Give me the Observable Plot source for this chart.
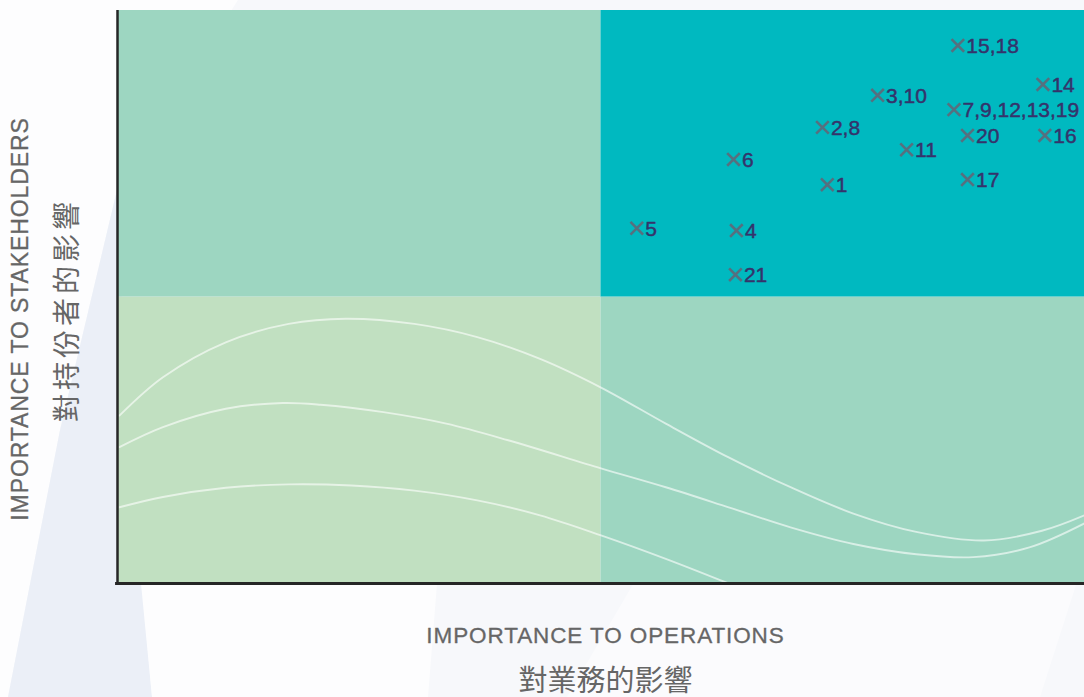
<!DOCTYPE html>
<html>
<head>
<meta charset="utf-8">
<script src="https://cdn.jsdelivr.net/npm/d3@7"></script>
<script src="https://cdn.jsdelivr.net/npm/@observablehq/plot@0.6"></script>
<style>
  html, body { margin: 0; padding: 0; }
  body { width: 1084px; height: 697px; overflow: hidden; background: #f7f8fb; position: relative; }
  .bg { position: absolute; left: 0; top: 0; width: 1084px; height: 697px; }
  #bg-white-left { background: #fdfdfe; clip-path: polygon(0 0, 238px 0, 117px 190px, 60px 430px, 8px 697px, 0 697px); }
  #bg-lav { background: #ebeff7; clip-path: polygon(8px 697px, 60px 430px, 117px 190px, 126px 400px, 152px 697px); }
  #bg-white-mid { background: #fdfdfe; clip-path: polygon(130px 470px, 152px 697px, 428px 697px, 446px 470px); }
  #bg-white-right { background: #fbfbfd; clip-path: polygon(700px 470px, 1084px 470px, 1084px 560px, 1040px 697px, 567px 697px); }
  #chart { position: absolute; left: 0; top: 0; }
</style>
</head>
<body>
<div class="bg" id="bg-white-left"></div>
<div class="bg" id="bg-lav"></div>
<div class="bg" id="bg-white-mid"></div>
<div class="bg" id="bg-white-right"></div>
<div id="chart"></div>
<script>
// ---- Data ----
const axisMax = 10;
const split = 5;

const pointLabels = ["15,18", "14", "3,10", "7,9,12,13,19", "2,8", "20", "16", "11", "6", "1", "17", "5", "4", "21"];
const operations   = [8.69, 9.57, 7.86, 8.65, 7.29, 8.79, 9.59, 8.16, 6.37, 7.34, 8.79, 5.37, 6.40, 6.39];
const stakeholders = [9.39, 8.71, 8.52, 8.27, 7.96, 7.82, 7.82, 7.57, 7.40, 6.96, 7.05, 6.20, 6.16, 5.39];

const xTitle = "IMPORTANCE TO OPERATIONS";
const xTitleZh = "對業務的影響";
const yTitle = "IMPORTANCE TO STAKEHOLDERS";
const yTitleZh = "對持份者的影響";

// decorative wave lines (lower half)
const wave1X = [0.02, 0.47, 1.12, 1.77, 2.36, 3.07, 3.72, 4.37, 5.00, 5.67, 6.32, 6.96, 7.61, 8.26, 8.96, 9.56, 10];
const wave1Y = [2.93, 3.60, 4.21, 4.53, 4.62, 4.53, 4.30, 3.92, 3.42, 2.79, 2.20, 1.68, 1.22, 0.90, 0.75, 0.92, 1.19];
const wave2X = [0.02, 0.47, 1.12, 1.71, 2.10, 2.75, 3.40, 4.04, 5.00, 5.67, 6.32, 6.96, 7.61, 8.26, 8.85, 9.43, 10];
const wave2Y = [2.38, 2.73, 3.05, 3.15, 3.12, 2.99, 2.79, 2.50, 2.01, 1.68, 1.33, 0.98, 0.69, 0.51, 0.46, 0.63, 1.05];
const wave3X = [0.02, 0.47, 1.12, 1.77, 2.42, 3.07, 3.72, 4.37, 5.00, 5.67, 6.32];
const wave3Y = [1.33, 1.51, 1.67, 1.73, 1.71, 1.62, 1.45, 1.19, 0.84, 0.43, 0.00];

// ---- Styles ----
const quadFill = { "low-low": "#c1e0c1", "high-low": "#9dd6c1", "low-high": "#9dd6c1", "high-high": "#00b9c0" };

// ---- Derived tables ----
const quadrants = [
  { key: "low-low",   x1: 0,     x2: split,   y1: 0,     y2: split },
  { key: "high-low",  x1: split, x2: axisMax, y1: 0,     y2: split },
  { key: "low-high",  x1: 0,     x2: split,   y1: split, y2: axisMax },
  { key: "high-high", x1: split, x2: axisMax, y1: split, y2: axisMax }
];
const waves = [];
[[wave1X, wave1Y], [wave2X, wave2Y], [wave3X, wave3Y]].forEach(([xs, ys], i) => {
  xs.forEach((x, j) => waves.push({ wave: i, x, y: ys[j] }));
});
const points = pointLabels.map((label, i) => ({ label, x: operations[i], y: stakeholders[i] }));

const latin = "'Liberation Sans', Arial, Helvetica, sans-serif";
const cjk = "'Noto Sans CJK TC', 'Noto Sans CJK SC', sans-serif";

const chart = Plot.plot({
  width: 1084,
  height: 697,
  marginLeft: 117,
  marginRight: 0,
  marginTop: 10,
  marginBottom: 114,
  style: { background: "transparent", fontFamily: latin, overflow: "visible" },
  x: { domain: [0, axisMax], axis: null },
  y: { domain: [0, axisMax], axis: null },
  marks: [
    Plot.rect(quadrants, { x1: "x1", x2: "x2", y1: "y1", y2: "y2", fill: d => quadFill[d.key] }),
    Plot.line(waves, { x: "x", y: "y", z: "wave", curve: "catmull-rom", stroke: "white", strokeOpacity: 0.6, strokeWidth: 1.9, clip: true }),
    Plot.ruleX([0], { y1: 0, y2: axisMax, stroke: "#262626", strokeWidth: 2.5 }),
    Plot.ruleY([0], { x1: -0.02, x2: axisMax, stroke: "#262626", strokeWidth: 3 }),
    Plot.dot(points, { x: "x", y: "y", symbol: "times", r: 5.8, stroke: "#56707f", strokeWidth: 2.6 }),
    Plot.text(points, { x: "x", y: "y", text: "label", textAnchor: "start", dx: 8.5, dy: 1, fill: "#35336b", stroke: "#35336b", strokeWidth: 0.45, fontSize: 21 }),
    Plot.text([xTitle], { frameAnchor: "bottom", textAnchor: "middle", lineAnchor: "middle", dx: 4.5, dy: 52, fontSize: 22.5, fill: "#666666", stroke: "#666666", strokeWidth: 0.3 }),
    Plot.text([xTitleZh], { frameAnchor: "bottom", textAnchor: "middle", lineAnchor: "middle", dx: 4.5, dy: 98, fontSize: 29, fill: "#666666", fontFamily: cjk }),
    Plot.text([yTitle], { frameAnchor: "left", textAnchor: "middle", lineAnchor: "middle", rotate: -90, dx: -97, dy: 22, fontSize: 23, fill: "#666666", stroke: "#666666", strokeWidth: 0.3 }),
    Plot.text([yTitleZh], { frameAnchor: "left", textAnchor: "middle", lineAnchor: "middle", rotate: -90, dx: -49, dy: 13, fontSize: 28, fill: "#666666", fontFamily: cjk })
  ]
});
chart.querySelectorAll("text").forEach(t => {
  if (t.textContent === xTitle || t.textContent === yTitle) t.style.letterSpacing = "0.9px";
  if (t.textContent === yTitleZh) t.style.letterSpacing = "4px";
});
document.getElementById("chart").appendChild(chart);
</script>
</body>
</html>
